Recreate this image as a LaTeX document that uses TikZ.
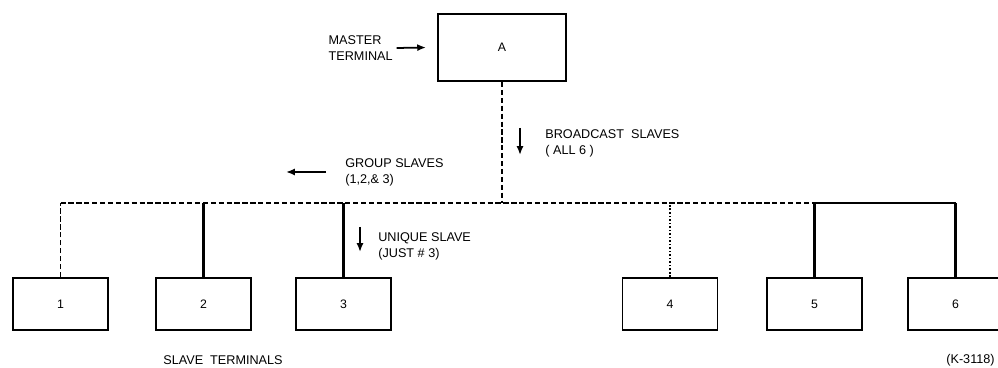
\documentclass[tikz,border=0pt]{standalone}
\usepackage{fontspec}
\setmainfont{Liberation Sans}
\usetikzlibrary{arrows.meta,positioning}

\begin{document}
\begin{tikzpicture}[
            term/.style={rectangle, draw, line width=1.1pt, minimum width=1.9cm, minimum height=1.04cm, inner sep=0pt, font=\fontsize{7}{8}\selectfont},
            master/.style={term, minimum width=2.56cm, minimum height=1.34cm},
            lbl/.style={align=left, inner sep=0pt, font=\fontsize{7.2}{9}\selectfont},
            arrow/.style={-{Latex[length=5pt,width=4pt]}, line width=1pt},
            bus/.style={line width=0.8pt, dash pattern=on 3pt off 1.5pt},
            wire/.style={line width=1.2pt}
        ]
            \clip (0,0) rectangle (19.96,7.36);

            % --- MASTER ---
            \node[master] (A) at (10.04,6.41) {A};
            \node[lbl, anchor=east] (mlabel) at (7.86,6.40) {MASTER\\TERMINAL};
            \draw[arrow] ([xshift=2pt]mlabel.east) -- ([xshift=-0.22cm]A.west);

            % --- SLAVES ---
            \node[term] (s1) at (1.21,1.28) {1};
            \node[term] (s2) at (4.07,1.28) {2};
            \node[term] (s3) at (6.87,1.28) {3};
            \node[term] (s4) at (13.40,1.28) {4};
            \node[term] (s5) at (16.29,1.28) {5};
            \node[term] (s6) at (19.11,1.28) {6};
            \node[lbl] (slabel) at (4.46,0.16) {SLAVE\ \ TERMINALS};
            \node[lbl, anchor=east] (fig) at (19.90,0.16) {(K-3118)};

            % --- BUS ---
            \coordinate (bus) at (0,3.30);
            \draw[bus] (s1 |- bus) -- (s5 |- bus);
            \draw[wire] (s5 |- bus) -- (s6 |- bus);
            \draw[bus] (A.south) -- (A |- bus);
            \draw[bus] (s1.north) -- (s1 |- bus);
            \draw[bus, dash pattern=on 1pt off 1pt] (s4.north) -- (s4 |- bus);
            \foreach \s in {s2,s3,s5,s6}
                \draw[wire] (\s.north) -- (\s |- bus);

            % --- MESSAGES ---
            \node[lbl, anchor=west] (bcast) at (10.90,4.50) {BROADCAST\ \ SLAVES\\( ALL 6 )};
            \draw[arrow] ([xshift=-0.50cm,yshift=0.30cm]bcast.west) -- ([xshift=-0.50cm,yshift=-0.24cm]bcast.west);

            \node[lbl, anchor=west] (group) at (6.90,3.92) {GROUP SLAVES\\(1,2,\& 3)};
            \draw[arrow] ([xshift=-0.38cm]group.west) -- ([xshift=-1.18cm]group.west);

            \node[lbl, anchor=west] (unique) at (7.56,2.44) {UNIQUE SLAVE\\(JUST \# 3)};
            \draw[arrow] ([xshift=-0.36cm,yshift=0.38cm]unique.west) -- ([xshift=-0.36cm,yshift=-0.12cm]unique.west);

        \end{tikzpicture}
\end{document}
